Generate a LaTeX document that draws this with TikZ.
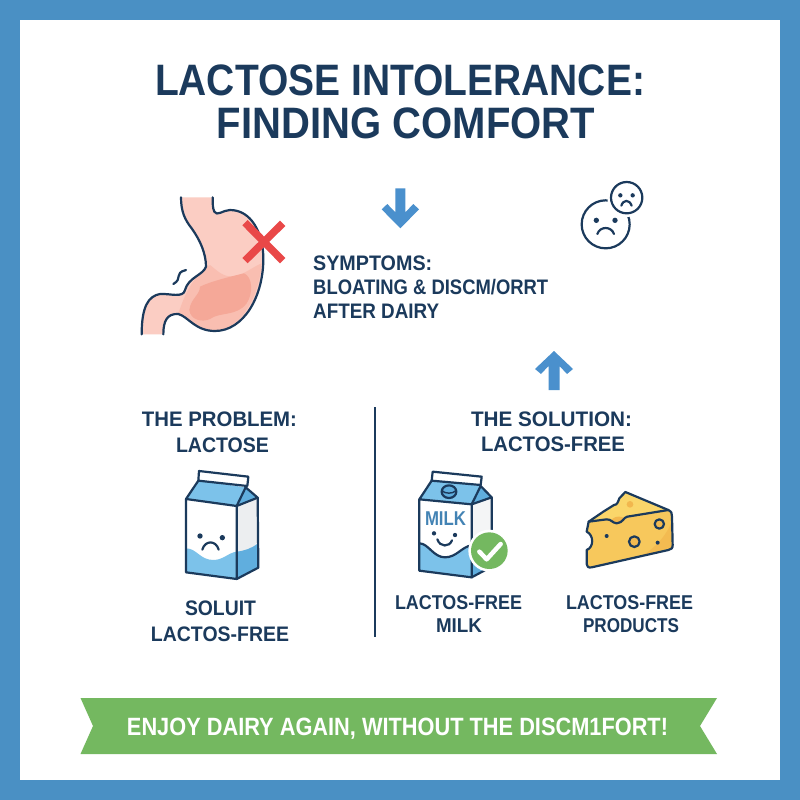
\documentclass[tikz,border=0pt]{standalone}
\usepackage{fontspec}
\usepackage{graphicx}
\setmainfont{Liberation Sans}
\definecolor{navy}{RGB}{27,58,92}
\definecolor{frameblue}{RGB}{74,144,196}
\definecolor{arrowblue}{RGB}{74,144,205}
\definecolor{pinkA}{RGB}{251,205,195}
\definecolor{pinkM}{RGB}{249,190,177}
\definecolor{pinkB}{RGB}{245,168,152}
\definecolor{redx}{RGB}{233,72,72}
\definecolor{milkA}{RGB}{124,194,234}
\definecolor{milkB}{RGB}{96,174,222}
\definecolor{sidegrey}{RGB}{236,238,240}
\definecolor{green1}{RGB}{116,184,96}
\definecolor{cheeseA}{RGB}{250,214,106}
\definecolor{cheeseB}{RGB}{247,200,92}
\definecolor{cheeseC}{RGB}{240,176,72}
\newcommand{\fit}[3]{\resizebox{#1pt}{\height}{\fontsize{#2}{#2}\selectfont\bfseries #3}}
\tikzset{
  lbl/.style={inner sep=0pt,anchor=base,text=navy},
  lblw/.style={inner sep=0pt,anchor=base west,text=navy},
  ink/.style={draw=navy,line width=2.2pt,line join=round,line cap=round},
  feature/.style={navy,line width=2.2pt,line cap=round},
}
\begin{document}
\begin{tikzpicture}[x=1pt,y=-1pt]
\useasboundingbox (0,0) rectangle (800,800);
\fill[frameblue] (0,0) rectangle (800,800);
\fill[white] (20,20) rectangle (780,780);

% title
\node[lbl] (title1) at (400,95) {\fit{490}{44}{LACTOSE INTOLERANCE:}};
\node[lbl] (title2) at (406,138) {\fit{378}{44}{FINDING COMFORT}};

% stomach
\begin{scope}[shift={(120,170)},scale=1/3]
\fill[pinkA] (183,82) .. controls (183,125) and (195,150) .. (215,175)
  .. controls (240,210) and (258,250) .. (258,290)
  .. controls (250,315) and (205,322) .. (195,360)
  .. controls (190,385) and (150,370) .. (120,372)
  .. controls (85,378) and (65,410) .. (65,493) -- (130,493)
  .. controls (130,455) and (140,430) .. (175,432)
  .. controls (205,440) and (225,483) .. (285,483)
  .. controls (370,483) and (432,380) .. (430,260)
  .. controls (428,190) and (395,120) .. (330,120)
  .. controls (310,120) and (290,140) .. (283,125)
  .. controls (278,115) and (278,100) .. (278,82) -- cycle;
\fill[pinkM] (270,285) .. controls (290,300) and (310,325) .. (345,318)
  .. controls (375,312) and (400,290) .. (425,280)
  .. controls (415,400) and (350,482) .. (285,482)
  .. controls (225,482) and (205,440) .. (175,431)
  .. controls (190,385) and (215,320) .. (270,285) -- cycle;
\fill[pinkB] (208,420) .. controls (212,385) and (240,375) .. (240,350)
  .. controls (270,335) and (330,320) .. (372,310)
  .. controls (398,320) and (400,370) .. (380,400)
  .. controls (350,440) and (300,425) .. (270,447)
  .. controls (245,458) and (212,450) .. (208,420) -- cycle;
\draw[ink] (183,82) .. controls (183,125) and (195,150) .. (215,175)
  .. controls (240,210) and (258,250) .. (258,290)
  .. controls (250,315) and (205,322) .. (195,360)
  .. controls (190,385) and (150,370) .. (120,372)
  .. controls (85,378) and (65,410) .. (65,493);
\draw[ink] (130,493) .. controls (130,455) and (140,430) .. (175,432)
  .. controls (205,440) and (225,483) .. (285,483)
  .. controls (370,483) and (432,380) .. (430,260)
  .. controls (428,190) and (395,120) .. (330,120)
  .. controls (310,120) and (290,140) .. (283,125)
  .. controls (278,115) and (278,100) .. (278,82);
\draw[ink] (160,342) .. controls (190,325) and (160,310) .. (198,300);
\draw[redx,line width=7.5pt] (375,158) -- (488,272) (488,160) -- (375,272);
% down arrow
\fill[arrowblue] (826,55) -- (856,55) -- (856,127) -- (880,102) -- (897,118) -- (841,175) -- (785,118) -- (802,102) -- (826,127) -- cycle;
\end{scope}

% up arrow
\fill[arrowblue] (548.5,390) -- (559.5,390) -- (559.5,366) -- (567,374) -- (573,369) -- (554,351) -- (535,369) -- (541,374) -- (548.5,366) -- cycle;

% faces
\begin{scope}[shift={(520,170)},scale=1/3]
\draw[ink] (257,163) circle (72);
\fill[white] (320,83) circle (58);
\draw[ink] (320,83) circle (47);
\fill[navy] (229,151) circle (8) (285,151) circle (8) (301,76) circle (6.5) (338,76) circle (6.5);
\draw[feature] (232,192) .. controls (240,168) and (274,168) .. (282,192);
\draw[feature] (304,107) .. controls (310,88) and (328,88) .. (335,107);
\end{scope}

% symptoms
\node[lblw] (sym1) at (313,270) {\fit{119}{21}{SYMPTOMS:}};
\node[lblw] (sym2) at (313,294) {\fit{235}{21}{BLOATING \& DISCM/ORRT}};
\node[lblw] (sym3) at (313,318) {\fit{126}{21}{AFTER DAIRY}};

% problem column
\node[lbl] (prob1) at (219.5,426) {\fit{155}{21}{THE PROBLEM:}};
\node[lbl] (prob2) at (222.5,452) {\fit{93}{21}{LACTOSE}};
\begin{scope}[shift={(130,400)},scale=1/3]
\fill[milkA] (205,242) -- (168,297) -- (320,318) -- (347,262) -- cycle;
\fill[milkB] (347,262) -- (383,293) -- (320,318) -- cycle;
\fill[sidegrey] (320,318) -- (383,293) -- (385,503) -- (320,537) -- cycle;
\fill[milkA] (168,445) .. controls (200,445) and (210,480) .. (250,480)
  .. controls (280,480) and (295,458) .. (320,455) -- (320,537) -- (168,517) -- cycle;
\fill[milkB] (320,455) .. controls (345,452) and (365,445) .. (384,430) -- (385,503) -- (320,537) -- cycle;
\draw[ink] (207,213) -- (355,230) -- (352,258) -- (205,242) -- cycle;
\draw[ink] (205,242) -- (168,297) -- (320,318) -- (347,262);
\draw[ink] (347,262) -- (383,293) -- (320,318);
\draw[ink] (168,297) -- (168,517) -- (320,537) -- (320,318);
\draw[ink] (383,293) -- (385,503) -- (320,537);
\fill[navy] (210,408) circle (8) (277,413) circle (8);
\draw[feature] (217,449) .. controls (225,420) and (258,420) .. (266,449);
\end{scope}
\node[lbl] (sol1) at (220.5,615) {\fit{71}{21}{SOLUIT}};
\node[lbl] (sol2) at (220,641) {\fit{138}{21}{LACTOS-FREE}};

% divider
\coordinate (divtop) at (375,407);
\coordinate (divbot) at (375,637);
\draw[navy,line width=2.4pt] (divtop) -- (divbot);

% solution column
\node[lbl] (solu1) at (551.5,426) {\fit{161}{21}{THE SOLUTION:}};
\node[lbl] (solu2) at (553,451) {\fit{144}{21}{LACTOS-FREE}};

% milk carton
\begin{scope}[shift={(390,460)},scale=1/3]
\fill[white] (88,118) -- (245,133) -- (245,352) -- (88,332) -- cycle;
\fill[milkA] (125,62) -- (88,118) -- (245,133) -- (272,78) -- cycle;
\fill[milkB] (272,78) -- (305,112) -- (245,133) -- cycle;
\fill[sidegrey!60!white] (245,133) -- (305,112) -- (305,320) -- (245,352) -- cycle;
\fill[milkA] (88,250) .. controls (115,250) and (130,292) .. (165,292)
  .. controls (200,292) and (215,260) .. (245,256) -- (245,352) -- (88,332) -- cycle;
\fill[milkB] (245,256) -- (305,235) -- (305,320) -- (245,352) -- cycle;
\draw[ink] (128,35) -- (275,50) -- (272,75) -- (125,62) -- cycle;
\draw[ink] (125,62) -- (88,118) -- (245,133) -- (272,78);
\draw[ink] (272,78) -- (305,112) -- (245,133);
\draw[ink] (88,118) -- (88,332) -- (245,352) -- (245,133);
\draw[ink] (305,112) -- (305,320) -- (245,352);
\draw[ink,fill=milkB] (177,95) ellipse (22 and 19);
\draw[navy,line width=1.4pt] (156,92) .. controls (165,102) and (188,102) .. (198,92);
\fill[navy] (132,220) circle (6.5) (195,225) circle (6.5);
\draw[feature] (142,238) .. controls (150,262) and (178,262) .. (186,241);
\draw[navy,line width=2.2pt] (88,250) .. controls (115,250) and (130,292) .. (165,292)
  .. controls (200,292) and (215,260) .. (245,256);
\fill[white] (298,272) circle (63);
\fill[green1] (298,272) circle (55);
\draw[white,line width=4.5pt,line cap=round,line join=round] (268,275) -- (290,298) -- (332,252);
\end{scope}
\node[inner sep=0pt,anchor=base,text=frameblue!85!navy] (milkword) at (445.5,525) {\fit{41}{20}{MILK}};

% cheese
\begin{scope}[shift={(390,460)},scale=1/3]
\path[fill=cheeseB] (596,185) -- (640,155) -- (672,135) .. controls (682,135) and (684,125) .. (688,115)
  -- (706,96) -- (835,150) .. controls (845,155) and (846,160) .. (846,170) -- (848,255)
  .. controls (848,265) and (844,268) .. (835,270) -- (605,322)
  .. controls (595,324) and (590,320) .. (590,312) -- (590,270)
  .. controls (612,262) and (612,225) .. (590,215) -- cycle;
\fill[cheeseA] (596,185) -- (640,155) -- (672,135) .. controls (682,135) and (684,125) .. (688,115)
  -- (706,96) -- (835,150) -- (712,170) .. controls (700,172) and (700,188) .. (680,190)
  .. controls (665,188) and (665,178) .. (650,178) -- cycle;
\fill[cheeseC!70!cheeseB] (665,178) .. controls (680,165) and (695,170) .. (703,174) .. controls (695,188) and (675,195) .. (665,178) -- cycle;
\fill[cheeseC!70!cheeseB] (720,133) circle (10);
\fill[cheeseC!55!cheeseB] (848,175) -- (846,262) -- (760,285) .. controls (800,260) and (835,220) .. (848,175) -- cycle;
\draw[ink] (596,185) -- (640,155) -- (672,135) .. controls (682,135) and (684,125) .. (688,115)
  -- (706,96) -- (835,150) .. controls (845,155) and (846,160) .. (846,170) -- (848,255)
  .. controls (848,265) and (844,268) .. (835,270) -- (605,322)
  .. controls (595,324) and (590,320) .. (590,312) -- (590,270)
  .. controls (612,262) and (612,225) .. (590,215) -- cycle;
\draw[ink] (596,185) -- (650,178) .. controls (665,178) and (665,188) .. (680,190)
  .. controls (700,188) and (700,172) .. (712,170) -- (835,150);
\draw[ink,fill=cheeseC!60!cheeseB] (733,245) circle (16);
\draw[ink,fill=cheeseC!60!cheeseB] (808,192) circle (14);
\fill[navy] (650,228) circle (6) (803,248) circle (6);
\end{scope}

\node[lbl] (mf1) at (458.5,609) {\fit{127}{20}{LACTOS-FREE}};
\node[lbl] (mf2) at (459,632) {\fit{46}{20}{MILK}};
\node[lbl] (pf1) at (629.5,609) {\fit{127}{20}{LACTOS-FREE}};
\node[lbl] (pf2) at (631,632) {\fit{96}{20}{PRODUCTS}};

% banner
\fill[green1] (80.5,698) -- (717,698) -- (700,726) -- (717,754) -- (80.5,754) -- (93,726) -- cycle;
\node[inner sep=0pt,anchor=base,text=white] (banner) at (397.5,735) {\fit{541}{25}{ENJOY DAIRY AGAIN, WITHOUT THE DISCM1FORT!}};
\end{tikzpicture}
\end{document}
